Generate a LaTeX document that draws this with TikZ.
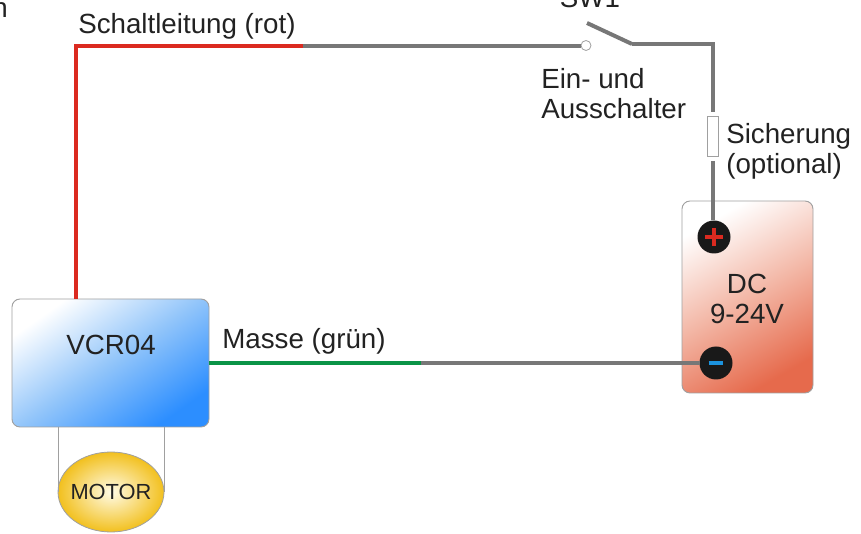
\documentclass[tikz,border=0pt]{standalone}
\usepackage{fontspec}
\setmainfont{Liberation Sans}
\usetikzlibrary{shapes.geometric}
\definecolor{wiregrey}{HTML}{777777}
\definecolor{wirered}{HTML}{DB2A20}
\definecolor{wiregreen}{HTML}{0A9447}
\definecolor{edgegrey}{HTML}{A0A0A0}
\definecolor{txt}{HTML}{222222}
\definecolor{bluefar}{HTML}{2C8EFF}
\definecolor{bluemid}{HTML}{92C5FA}
\definecolor{redfar}{HTML}{E66A4C}
\definecolor{redmid}{HTML}{F3B7A6}
\definecolor{motorout}{HTML}{F2C01E}
\definecolor{motorin}{HTML}{FFFBE6}
\definecolor{minusblue}{HTML}{1C93DE}
\tikzset{
  px/.style={x=0.75pt,y=-0.75pt},
  label/.style={font=\fontsize{20.8pt}{22.5pt}\selectfont,text=txt,inner sep=0pt,anchor=base west},
  clabel/.style={font=\fontsize{20.8pt}{22.5pt}\selectfont,text=txt,inner sep=0pt,anchor=base},
  wire/.style={line width=3.5pt,draw=wiregrey,line join=miter},
  redwire/.style={wire,draw=wirered},
  greenwire/.style={wire,draw=wiregreen},
  box/.style={draw=edgegrey,line width=0.7pt,rounded corners=6pt,inner sep=0pt,outer sep=0pt},
  terminal/.style={circle,fill=black!90,minimum size=24.75pt,inner sep=0pt,outer sep=0pt},
  thin wire/.style={draw=edgegrey,line width=0.7pt},
}
\begin{document}
\begin{tikzpicture}[px]
\useasboundingbox (0,0) rectangle (861,534);
% coordinates
\coordinate (redcorner) at (76,46);
\coordinate (redend) at (303,46);
\coordinate (pivot) at (632,44);
\coordinate (levertip) at (587,23);
\coordinate (rightcorner) at (713,44);
\coordinate (greenend) at (421,363);
% motor
\node[draw=edgegrey,line width=0.6pt,ellipse,inner sep=0pt,outer sep=0pt,minimum width=79.5pt,minimum height=60pt,
      inner color=motorin,outer color=motorout] (motor) at (111,492) {};
\node[font=\fontsize{16.4pt}{18pt}\selectfont,text=txt,inner sep=0pt] (motortext) at (motor.center) {MOTOR};
% boxes
\node[box,top color=white,bottom color=bluefar,middle color=bluemid,shading angle=35,
      minimum width=147.75pt,minimum height=96pt,anchor=north west] (vcr) at (12,299) {};
\node[box,top color=white,bottom color=redfar,middle color=redmid,shading angle=30,
      minimum width=98.25pt,minimum height=144pt,anchor=north west] (bat) at (682,201) {};
\node[clabel] (vcrtext) at (111,355) {VCR04};
\node[clabel] (dctext) at (747,294) {DC};
\node[clabel] (volttext) at (747,324) {9-24V};
% motor leads
\draw[thin wire] (motor.west) -- (motor.west |- vcr.south);
\draw[thin wire] (motor.east) -- (motor.east |- vcr.south);
% terminals
\node[terminal] (plus) at (714,237) {};
\node[terminal] (minus) at (716,363) {};
\draw[wirered,line width=2.3pt] ([xshift=-6.7pt]plus.center) -- ([xshift=6.7pt]plus.center);
\draw[wirered,line width=2.3pt] ([yshift=-6.7pt]plus.center) -- ([yshift=6.7pt]plus.center);
\draw[minusblue,line width=3.7pt] ([xshift=-5.6pt]minus.center) -- ([xshift=5.6pt]minus.center);
% switch and fuse
\node[circle,draw=edgegrey,fill=white,line width=0.6pt,minimum size=7.5pt,inner sep=0pt,outer sep=0pt] (contact) at (586,45.5) {};
\node[draw=edgegrey,fill=white,line width=0.6pt,minimum width=8.7pt,minimum height=29.5pt,inner sep=0pt,outer sep=0pt] (fuse) at (713,136.5) {};
% wires
\draw[wire] (redend) -- (redend -| contact.west);
\draw[redwire] (vcr.north -| redcorner) -- (redcorner) -- (redend);
\draw[wire,line width=3pt] (levertip) -- (pivot);
\draw[wire] (pivot) -- (rightcorner) -- ([yshift=3.5pt]fuse.north -| rightcorner);
\draw[wire] ([yshift=-3.5pt]fuse.south -| rightcorner) -- (plus.north -| rightcorner);
\draw[greenwire] (vcr.east |- minus) -- (greenend);
\draw[wire] (greenend) -- (minus.west);
% labels
\node[label] (lbla) at (78,34) {Schaltleitung (rot)};
\node[label] (lblb) at (222,349) {Masse (grün)};
\node[clabel] (lblc) at (590,8) {SW1};
\node[label] (lbld) at (541,89) {Ein- und};
\node[label] (lble) at (541,119) {Ausschalter};
\node[label] (lblf) at (726,144) {Sicherung};
\node[label] (lblg) at (726,174) {(optional)};
\node[label,anchor=base east] (lblh) at (8,18) {n};
\end{tikzpicture}
\end{document}
